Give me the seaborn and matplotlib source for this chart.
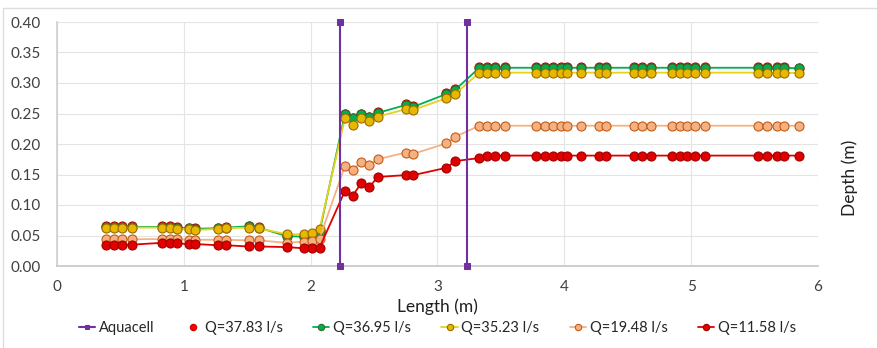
import pandas as pd
import seaborn as sns
import numpy as np
import matplotlib.pyplot as plt

# measurement stations along the flume (m)
length = [0.39, 0.45, 0.51, 0.59, 0.83, 0.89, 0.95, 1.04, 1.09, 1.27, 1.33, 1.51, 1.59,
          1.81, 1.95, 2.01, 2.07,
          2.27, 2.33, 2.40, 2.46, 2.53, 2.75, 2.81, 3.07, 3.14,
          3.33, 3.39, 3.45, 3.53, 3.78, 3.85, 3.91, 3.97, 4.02, 4.13, 4.27, 4.33,
          4.55, 4.61, 4.68, 4.85, 4.91, 4.97, 5.03, 5.11, 5.53, 5.60, 5.68, 5.73, 5.85]

q3695 = [0.064, 0.064, 0.064, 0.064, 0.064, 0.064, 0.063, 0.062, 0.061, 0.062, 0.063, 0.065, 0.063,
         0.049, 0.048, 0.050, 0.056,
         0.249, 0.242, 0.249, 0.244, 0.251, 0.264, 0.261, 0.282, 0.289,
         0.325, 0.325, 0.325, 0.325, 0.325, 0.325, 0.325, 0.325, 0.325, 0.325, 0.325, 0.325,
         0.325, 0.325, 0.325, 0.325, 0.325, 0.325, 0.325, 0.325, 0.325, 0.325, 0.325, 0.325, 0.324]
q3783 = [0.065, 0.065, 0.065, 0.065, 0.065, 0.065, 0.064, 0.063, 0.062, 0.063, 0.064, 0.066, 0.064,
         0.050, 0.049, 0.051, 0.057,
         0.250, 0.243, 0.250, 0.245, 0.252, 0.265, 0.262, 0.283, 0.290,
         0.326, 0.326, 0.326, 0.326, 0.326, 0.326, 0.326, 0.326, 0.326, 0.326, 0.326, 0.326,
         0.326, 0.326, 0.326, 0.326, 0.326, 0.326, 0.326, 0.326, 0.326, 0.326, 0.326, 0.326, 0.325]
q3523 = [0.063, 0.063, 0.063, 0.063, 0.063, 0.062, 0.061, 0.060, 0.059, 0.061, 0.062, 0.063, 0.062,
         0.052, 0.052, 0.054, 0.060,
         0.242, 0.231, 0.242, 0.237, 0.245, 0.257, 0.256, 0.275, 0.282,
         0.317, 0.317, 0.317, 0.317, 0.317, 0.317, 0.317, 0.317, 0.317, 0.317, 0.317, 0.317,
         0.317, 0.317, 0.317, 0.317, 0.317, 0.317, 0.317, 0.317, 0.317, 0.317, 0.317, 0.317, 0.316]
q1948 = [0.044, 0.044, 0.044, 0.044, 0.044, 0.044, 0.044, 0.043, 0.043, 0.043, 0.043, 0.042, 0.042,
         0.038, 0.040, 0.041, 0.045,
         0.164, 0.157, 0.171, 0.166, 0.175, 0.186, 0.184, 0.201, 0.212,
         0.230, 0.230, 0.230, 0.230, 0.230, 0.230, 0.230, 0.230, 0.230, 0.230, 0.230, 0.230,
         0.230, 0.230, 0.230, 0.230, 0.230, 0.230, 0.230, 0.230, 0.230, 0.230, 0.230, 0.230, 0.230]
q1158 = [0.034, 0.034, 0.035, 0.035, 0.038, 0.038, 0.037, 0.036, 0.036, 0.034, 0.034, 0.032, 0.032,
         0.031, 0.029, 0.029, 0.030,
         0.123, 0.115, 0.136, 0.129, 0.146, 0.149, 0.149, 0.161, 0.172,
         0.177, 0.181, 0.181, 0.181, 0.181, 0.181, 0.181, 0.181, 0.181, 0.181, 0.181, 0.181,
         0.181, 0.181, 0.181, 0.181, 0.181, 0.181, 0.181, 0.181, 0.181, 0.181, 0.181, 0.181, 0.181]

# aquacell walls: two vertical segments
aqua_x = [2.23, 2.23, 3.23, 3.23]
aqua_y = [0.0, 0.40, 0.40, 0.0]
aqua_seg = [0, 0, 1, 1]

sns.set_theme(style="whitegrid")
plt.rcParams['font.family'] = ['Lato', 'DejaVu Sans']

fig = plt.figure(figsize=(8.78, 3.48), dpi=100)
ax = fig.add_axes([57 / 878, 1 - 266 / 348, (818 - 57) / 878, (266 - 22) / 348])

aqua = pd.DataFrame({'x': aqua_x, 'y': aqua_y, 'seg': aqua_seg})
sns.lineplot(data=aqua, x='x', y='y', units='seg', estimator=None, sort=False, ax=ax,
             color='#7030A0', lw=1.5, marker='s', markersize=5, markeredgecolor='#7030A0',
             label='Aquacell', zorder=5, clip_on=False)

series = [
    ('Q=37.83 l/s', q3783, '#FF0000', '#C00000', 'none'),
    ('Q=36.95 l/s', q3695, '#00B050', '#2E6B2E', '-'),
    ('Q=35.23 l/s', q3523, '#E8D21D', '#9C6A00', '-'),
    ('Q=19.48 l/s', q1948, '#F4B183', '#C55A11', '-'),
    ('Q=11.58 l/s', q1158, '#E00000', '#A00000', '-'),
]
face = {'Q=37.83 l/s': '#FF0000', 'Q=36.95 l/s': '#00B050', 'Q=35.23 l/s': '#E6B800',
        'Q=19.48 l/s': '#F4B183', 'Q=11.58 l/s': '#E00000'}
for name, vals, c, ec, ls in series:
    df = pd.DataFrame({'x': length, 'y': vals})
    sns.lineplot(data=df, x='x', y='y', estimator=None, sort=False, ax=ax, color=c, lw=1.3,
                 linestyle=ls, marker='o', markersize=6.5, markerfacecolor=face[name],
                 markeredgecolor=ec, markeredgewidth=0.8, label=name)

ax.set_xlim(0, 6)
ax.set_ylim(0, 0.40)
ax.set_xticks(np.arange(0, 7, 1))
ax.set_yticks(np.arange(0, 0.41, 0.05))
ax.yaxis.set_major_formatter(plt.FormatStrFormatter('%.2f'))
ax.grid(color='#E4E4E4', lw=0.8)
for s in ['top', 'right']:
    ax.spines[s].set_visible(False)
ax.spines['left'].set_color('#D0D0D0')
ax.spines['bottom'].set_color('#C8C8C8')
ax.tick_params(axis='x', labelsize=11, colors='#404040', pad=4)
ax.tick_params(axis='y', labelsize=11, colors='#404040', pad=6)
ax.set_xlabel('Length (m)', fontsize=12.5, color='#202020', labelpad=3)
ax.set_ylabel('')
fig.text(0.968, 0.49, 'Depth (m)', rotation=90, fontsize=12.5, color='#202020',
         ha='center', va='center')

h, l = ax.get_legend_handles_labels()
uniq = dict(zip(l, h))
ax.legend(list(uniq.values()), list(uniq.keys()), loc='center', bbox_to_anchor=(0.5, -62 / 244),
          ncol=6, frameon=False, fontsize=10.5, handlelength=1.1, handletextpad=0.25,
          columnspacing=2.1, markerscale=0.7)

fig.patches.append(plt.Rectangle((0.003, -0.1), 1.2, 1.077, transform=fig.transFigure,
                                 fill=False, ec='#DDDDDD', lw=1))
fig.savefig('out.png', dpi=100)
